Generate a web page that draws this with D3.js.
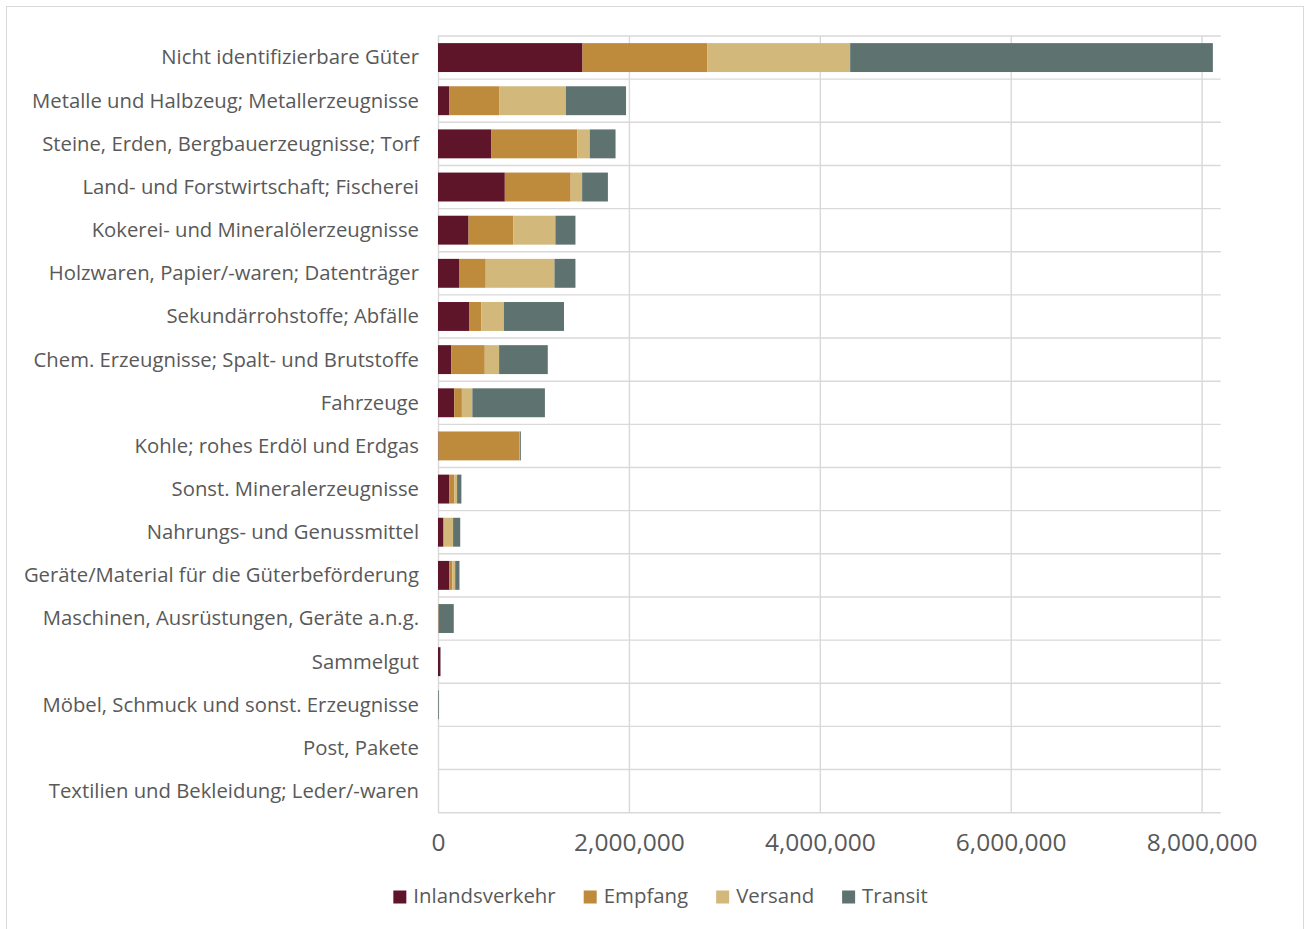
<!DOCTYPE html>
<html>
<head>
<meta charset="utf-8">
<script src="https://cdn.jsdelivr.net/npm/d3@7"></script>
<style>
  html, body { margin: 0; padding: 0; background: #fff; }
  svg { display: block; }
  text { font-family: "Open Sans", "Noto Sans", sans-serif; fill: #595959; }
</style>
</head>
<body>
<svg id="chart" width="1305" height="929"></svg>
<script>
// Güterverkehr nach Güterabteilung und Verkehrsart (Tonnen)
const categories = [
  "Nicht identifizierbare Güter",
  "Metalle und Halbzeug; Metallerzeugnisse",
  "Steine, Erden, Bergbauerzeugnisse; Torf",
  "Land- und Forstwirtschaft; Fischerei",
  "Kokerei- und Mineralölerzeugnisse",
  "Holzwaren, Papier/-waren; Datenträger",
  "Sekundärrohstoffe; Abfälle",
  "Chem. Erzeugnisse; Spalt- und Brutstoffe",
  "Fahrzeuge",
  "Kohle; rohes Erdöl und Erdgas",
  "Sonst. Mineralerzeugnisse",
  "Nahrungs- und Genussmittel",
  "Geräte/Material für die Güterbeförderung",
  "Maschinen, Ausrüstungen, Geräte a.n.g.",
  "Sammelgut",
  "Möbel, Schmuck und sonst. Erzeugnisse",
  "Post, Pakete",
  "Textilien und Bekleidung; Leder/-waren"
];
const seriesNames = ["Inlandsverkehr", "Empfang", "Versand", "Transit"];
const inlandsverkehr = [1514000, 120000, 560000, 700000, 320000, 220000, 330000, 140000, 170000, 5000, 120000, 55000, 120000, 3000, 25000, 0, 0, 0];
const empfang        = [1306000, 520000, 900000, 690000, 470000, 280000, 125000, 350000, 80000, 850000, 50000, 8000, 30000, 2000, 0, 0, 0, 0];
const versand        = [1498000, 700000, 130000, 120000, 440000, 720000, 235000, 150000, 110000, 3000, 30000, 95000, 30000, 3000, 0, 0, 0, 0];
const transit        = [3800000, 630000, 270000, 270000, 210000, 220000, 630000, 510000, 760000, 10000, 45000, 75000, 45000, 157000, 3000, 8000, 0, 0];
const tickValues = [0, 2000000, 4000000, 6000000, 8000000];
const colors = ["#5f1529", "#be8a3c", "#d2b87b", "#5e7370"];

const rows = categories.map((c, i) => ({
  category: c,
  Inlandsverkehr: inlandsverkehr[i],
  Empfang: empfang[i],
  Versand: versand[i],
  Transit: transit[i]
}));

const svg = d3.select("#chart");

// outer frame
svg.append("rect")
  .attr("x", 6.5).attr("y", 6.5)
  .attr("width", 1297).attr("height", 940)
  .attr("fill", "none").attr("stroke", "#d9d9d9").attr("stroke-width", 1);

const plotLeft = 438, plotRight = 1220.7, plotTop = 36, plotBottom = 812.7;

const x = d3.scaleLinear().domain([0, 8200000]).range([plotLeft, plotRight]);
const y = d3.scaleBand().domain(categories).range([plotTop, plotBottom])
  .paddingInner(0.33).paddingOuter(0.165);

// horizontal row separators
const step = y.step();
svg.append("g").selectAll("line")
  .data(d3.range(categories.length + 1))
  .join("line")
  .attr("x1", plotLeft).attr("x2", plotRight)
  .attr("y1", i => plotTop + i * step).attr("y2", i => plotTop + i * step)
  .attr("stroke", "#d9d9d9").attr("stroke-width", 1.4);

// x axis: vertical gridlines and tick labels
const xAxis = svg.append("g")
  .attr("transform", `translate(0,${plotBottom})`)
  .call(d3.axisBottom(x).tickValues(tickValues)
    .tickSize(-(plotBottom - plotTop)).tickFormat(d3.format(",")));
xAxis.select(".domain").remove();
xAxis.attr("font-family", null).attr("font-size", null);
xAxis.selectAll(".tick line").attr("stroke", "#d9d9d9").attr("stroke-width", 1.4);
xAxis.selectAll(".tick text")
  .attr("y", 38.3).attr("dy", 0)
  .style("font-size", "24.5px").style("fill", "#595959");

// stacked bars
const stack = d3.stack().keys(seriesNames);
const layers = stack(rows);
svg.append("g").selectAll("g")
  .data(layers)
  .join("g")
  .attr("fill", (d, i) => colors[i])
  .selectAll("rect")
  .data(d => d)
  .join("rect")
  .attr("x", d => x(d[0]))
  .attr("width", d => Math.max(0, x(d[1]) - x(d[0])))
  .attr("y", d => y(d.data.category))
  .attr("height", y.bandwidth());

// category labels
svg.append("g").selectAll("text")
  .data(categories)
  .join("text")
  .attr("x", 419)
  .attr("y", d => y(d) + y.bandwidth() / 2 + 6.9)
  .attr("text-anchor", "end")
  .style("font-size", "20.3px")
  .text(d => d);

// legend
const legend = svg.append("g");
const items = legend.selectAll("g")
  .data(seriesNames)
  .join("g");
items.append("rect")
  .attr("width", 13).attr("height", 13)
  .attr("y", 890.5)
  .attr("fill", (d, i) => colors[i]);
items.append("text")
  .attr("x", 20).attr("y", 902.7)
  .style("font-size", "20.4px")
  .text(d => d);
let cursor = 0;
const offsets = [];
items.each(function () {
  const w = d3.select(this).select("text").node().getComputedTextLength();
  offsets.push(cursor);
  cursor += 20 + w + 28;
});
const total = cursor - 28;
const startX = 660.5 - total / 2;
items.attr("transform", (d, i) => `translate(${startX + offsets[i]},0)`);
</script>
</body>
</html>
